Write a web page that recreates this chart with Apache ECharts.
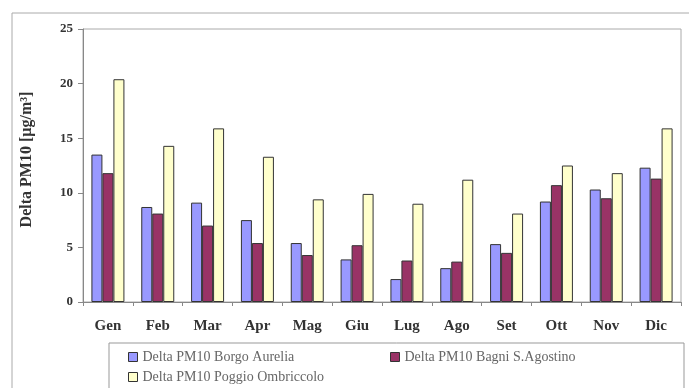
<!DOCTYPE html>
<html>
<head>
<meta charset="utf-8">
<script src="https://cdn.jsdelivr.net/npm/echarts@6/dist/echarts.min.js"></script>
<style>
  html, body { margin: 0; padding: 0; background: #fff; }
  #chart { width: 689px; height: 388px; }
</style>
</head>
<body>
<div id="chart"></div>
<script>
const months = ["Gen", "Feb", "Mar", "Apr", "Mag", "Giu", "Lug", "Ago", "Set", "Ott", "Nov", "Dic"];
const borgoAurelia = [13.5, 8.7, 9.1, 7.5, 5.4, 3.9, 2.1, 3.1, 5.3, 9.2, 10.3, 12.3];
const bagniAgostino = [11.8, 8.1, 7.0, 5.4, 4.3, 5.2, 3.8, 3.7, 4.5, 10.7, 9.5, 11.3];
const poggioOmbriccolo = [20.4, 14.3, 15.9, 13.3, 9.4, 9.9, 9.0, 11.2, 8.1, 12.5, 11.8, 15.9];
const seriesNames = ["Delta PM10 Borgo Aurelia", "Delta PM10 Bagni S.Agostino", "Delta PM10 Poggio Ombriccolo"];
const yTicks = [0, 5, 10, 15, 20, 25];

const serif = "Liberation Serif";
const chart = echarts.init(document.getElementById("chart"));

const legendText = { fontFamily: serif, fontSize: 14, color: "#666" };
function legendAt(name, left, top) {
  return {
    data: [name],
    left: left,
    top: top,
    icon: "rect",
    itemWidth: 9,
    itemHeight: 9,
    itemGap: 0,
    selectedMode: false,
    itemStyle: { borderColor: "#333", borderWidth: 1 },
    textStyle: legendText,
    padding: 0
  };
}

function barSeries(name, data, color) {
  return {
    name: name,
    type: "bar",
    data: data,
    barWidth: 11,
    barGap: "0%",
    itemStyle: { color: color, borderColor: "#333", borderWidth: 1 }
  };
}

chart.setOption({
  backgroundColor: "#fff",
  animation: false,
  graphic: [
    {
      type: "rect",
      shape: { x: 12, y: 13, width: 690, height: 400 },
      style: { fill: "none", stroke: "#aaa", lineWidth: 1 }
    },
    {
      type: "rect",
      shape: { x: 109, y: 343, width: 575, height: 60 },
      style: { fill: "none", stroke: "#999", lineWidth: 1 }
    }
  ],
  legend: [
    legendAt(seriesNames[0], 128, 350),
    legendAt(seriesNames[1], 390, 350),
    legendAt(seriesNames[2], 128, 370)
  ],
  grid: {
    left: 83,
    right: 8,
    top: 29,
    bottom: 86,
    show: true,
    borderColor: "#aaa",
    borderWidth: 1
  },
  xAxis: {
    type: "category",
    data: months,
    axisLine: { lineStyle: { color: "#888" } },
    axisTick: { show: true, length: 4, lineStyle: { color: "#888" } },
    axisLabel: {
      margin: 17,
      fontFamily: serif,
      fontWeight: "bold",
      fontSize: 15,
      color: "#333"
    }
  },
  yAxis: {
    type: "value",
    min: 0,
    max: 25,
    interval: 5,
    name: "Delta PM10 [µg/m³]",
    nameLocation: "middle",
    nameGap: 48,
    nameTextStyle: { fontFamily: serif, fontWeight: "bold", fontSize: 16, color: "#333", padding: [0, 0, 0, 12] },
    axisLine: { show: true, lineStyle: { color: "#888" } },
    axisTick: { show: true, length: 5, lineStyle: { color: "#888" } },
    splitLine: { show: false },
    axisLabel: {
      margin: 10,
      fontFamily: serif,
      fontWeight: "bold",
      fontSize: 13,
      color: "#333",
      formatter: function (v) { return yTicks.indexOf(v) >= 0 ? String(v) : ""; }
    }
  },
  series: [
    barSeries(seriesNames[0], borgoAurelia, "#9999ff"),
    barSeries(seriesNames[1], bagniAgostino, "#993366"),
    barSeries(seriesNames[2], poggioOmbriccolo, "#ffffcc")
  ]
});
</script>
</body>
</html>
